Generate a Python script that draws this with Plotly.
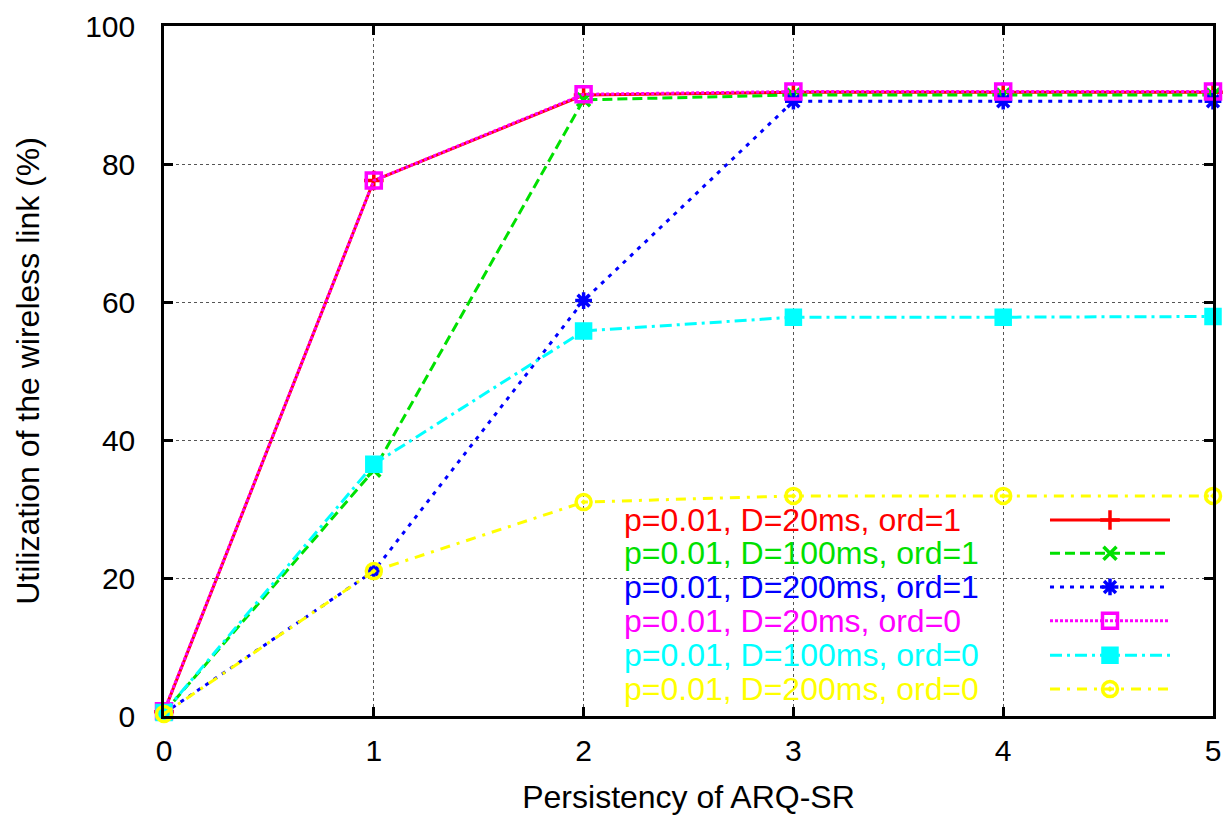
import plotly.graph_objects as go

x = [0, 1, 2, 3, 4, 5]
names = ["p=0.01, D=20ms, ord=1", "p=0.01, D=100ms, ord=1", "p=0.01, D=200ms, ord=1",
         "p=0.01, D=20ms, ord=0", "p=0.01, D=100ms, ord=0", "p=0.01, D=200ms, ord=0"]
y_d20_o1 = [0.6, 77.6, 90.0, 90.4, 90.4, 90.4]
y_d100_o1 = [0.5, 35.6, 89.3, 90.0, 90.0, 90.0]
y_d200_o1 = [0.4, 21.0, 60.2, 89.1, 89.1, 89.1]
y_d20_o0 = [0.7, 77.6, 90.1, 90.5, 90.5, 90.5]
y_d100_o0 = [0.5, 36.5, 55.8, 57.8, 57.8, 57.9]
y_d200_o0 = [0.3, 21.0, 31.0, 31.9, 31.9, 31.9]
series = [y_d20_o1, y_d100_o1, y_d200_o1, y_d20_o0, y_d100_o0, y_d200_o0]

colors = ["#ff0000", "#00e000", "#0000ff", "#ff00ff", "#00ffff", "#ffff00"]
dashes = ["solid", "10px,5px", "4px,6px", "3px,2px", "12px,5px,3px,5px", "10px,7px,3px,7px"]
symbols = ["cross-thin-open", "x-thin-open", "asterisk-open", "square-open", "square", "circle-open-dot"]
msizes = [14, 13, 14, 15, 14, 15]

FONT = "Liberation Sans, Arial, sans-serif"
fig = go.Figure()

for ys, nm, c, d, s, ms in zip(series, names, colors, dashes, symbols, msizes):
    fig.add_trace(go.Scatter(
        x=x, y=ys, name=nm, mode="lines+markers",
        line=dict(color=c, width=3, dash=d),
        marker=dict(symbol=s, size=ms, color=c, line=dict(color=c, width=3.5)),
        cliponaxis=False, showlegend=False))

# manual gnuplot-style key: text on the left, sample on the right
key_text_x = 0.4366
key_x0, key_x1 = 0.8446, 0.959
key_rows = [0.284, 0.236, 0.187, 0.138, 0.088, 0.039]
for nm, c, d, s, ms, ky in zip(names, colors, dashes, symbols, msizes, key_rows):
    fig.add_trace(go.Scatter(
        x=[key_x0, key_x1], y=[ky, ky], mode="lines", xaxis="x2", yaxis="y2",
        line=dict(color=c, width=3, dash=d), showlegend=False, hoverinfo="skip"))
    fig.add_trace(go.Scatter(
        x=[(key_x0 + key_x1) / 2], y=[ky], mode="markers", xaxis="x2", yaxis="y2",
        marker=dict(symbol=s, size=ms, color=c, line=dict(color=c, width=3.5)),
        showlegend=False, hoverinfo="skip"))
    fig.add_annotation(x=key_text_x, y=ky, xref="x2", yref="y2", text=nm,
                       showarrow=False, xanchor="left", yanchor="middle",
                       font=dict(family=FONT, size=32, color=c))

axis_common = dict(showline=True, linecolor="black", linewidth=2.5, mirror="ticks",
                   ticks="inside", ticklen=9, tickwidth=2.5, tickcolor="black",
                   showgrid=True, gridcolor="#555555", griddash="dot", gridwidth=1,
                   zeroline=False, tickfont=dict(family=FONT, size=30, color="black"))

fig.update_layout(
    width=1227, height=817,
    margin=dict(l=164, r=14, t=26, b=101, autoexpand=False),
    paper_bgcolor="white", plot_bgcolor="white",
    font=dict(family=FONT, color="black"),
    xaxis=dict(range=[0, 5], dtick=1, ticklabelstandoff=6,
               title=dict(text="Persistency of ARQ-SR", font=dict(family=FONT, size=32), standoff=20),
               **axis_common),
    yaxis=dict(range=[0, 100], dtick=20, ticklabelstandoff=20,
               title=dict(text="Utilization of the wireless link (%)",
                          font=dict(family=FONT, size=32), standoff=36),
               **axis_common),
    xaxis2=dict(range=[0, 1], overlaying="x", visible=False, fixedrange=True),
    yaxis2=dict(range=[0, 1], overlaying="y", visible=False, fixedrange=True),
)

fig.write_html("out.html", config={"displayModeBar": False},
               post_script="document.body.style.margin='0';document.body.style.overflow='hidden';")
